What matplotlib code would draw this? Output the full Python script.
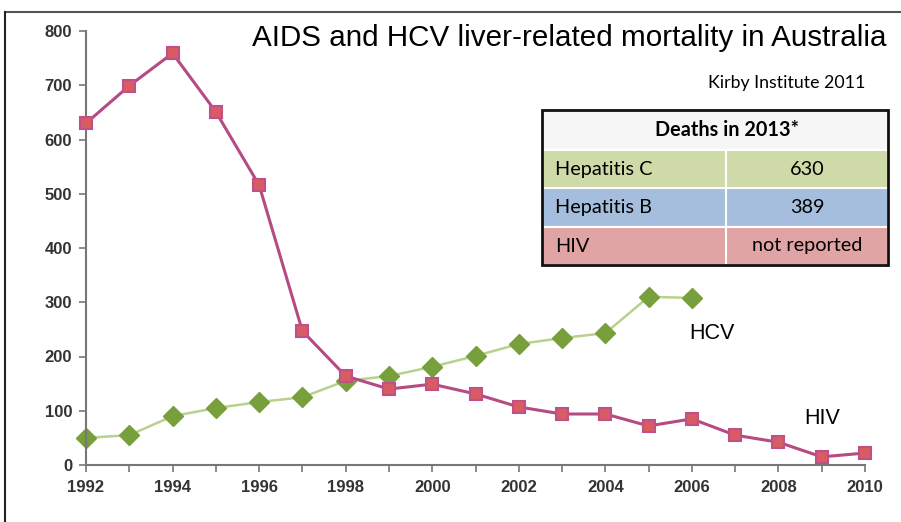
import matplotlib
matplotlib.use("Agg")
import matplotlib.pyplot as plt
from matplotlib.patches import Rectangle
from matplotlib.lines import Line2D

# -------------------------------
# DATA
# -------------------------------
hiv_years = list(range(1992, 2011))
hiv_deaths = [630, 699, 759, 651, 516, 247, 164, 140, 149, 131, 107, 94, 94, 72, 85, 55, 42, 15, 22]

hcv_years = list(range(1992, 2007))
hcv_deaths = [50, 55, 90, 105, 116, 125, 155, 164, 181, 201, 223, 234, 243, 310, 308]

table_header = "Deaths in 2013*"
table_rows = ["Hepatitis C", "Hepatitis B", "HIV"]
table_values = ["630", "389", "not reported"]
table_colors = ["#cfdaa9", "#a6bedd", "#dfa4a3"]

x_ticks = list(range(1992, 2011, 2))
y_ticks = list(range(0, 801, 100))

# -------------------------------
# FIGURE
# -------------------------------
W, H = 901, 522
fig = plt.figure(figsize=(W / 100, H / 100), dpi=100)

# outer frame lines (top and left)
fig.add_artist(Line2D([5 / W, 1], [1 - 12 / H, 1 - 12 / H], color="#555555", lw=1.5))
fig.add_artist(Line2D([5 / W, 5 / W], [0, 1 - 12 / H], color="#222222", lw=1.5))

ax = fig.add_axes([86 / W, 1 - 465 / H, (865 - 86) / W, (465 - 31) / H])

ax.plot(hiv_years, hiv_deaths, color="#b54b82", lw=2.2, marker="s", ms=9,
        markerfacecolor="#d95c63", markeredgecolor="#c0508a", markeredgewidth=1.5,
        clip_on=False, zorder=3)
ax.plot(hcv_years, hcv_deaths, color="#b8d28e", lw=1.8, marker="D", ms=10,
        markerfacecolor="#77a03c", markeredgecolor="#77a03c", clip_on=False, zorder=2)

ax.set_xlim(1992, 2010)
ax.set_ylim(0, 800)
ax.set_xticks(range(1992, 2011))
ax.set_xticklabels([str(y) if y in x_ticks else "" for y in range(1992, 2011)])
ax.set_yticks(y_ticks)

for s in ["top", "right"]:
    ax.spines[s].set_visible(False)
for s in ["left", "bottom"]:
    ax.spines[s].set_color("#777777")
    ax.spines[s].set_linewidth(1.5)
ax.tick_params(axis="both", colors="#777777", labelcolor="#333333", length=5, width=1.2,
               labelsize=12, direction="out")
ax.tick_params(axis="x", pad=6)
ax.tick_params(axis="y", pad=5)
for lab in ax.get_xticklabels() + ax.get_yticklabels():
    lab.set_fontweight("bold")
    lab.set_family("Liberation Sans")

# -------------------------------
# TEXT
# -------------------------------
fig.text(887 / W, 1 - 38 / H, "AIDS and HCV liver-related mortality in Australia",
         ha="right", va="center", fontsize=21.3, family="Liberation Sans")
fig.text(865 / W, 1 - 83 / H, "Kirby Institute 2011", ha="right", va="center",
         fontsize=12.8, family="Lato")
ax.text(2005.95, 243, "HCV", fontsize=15.5, family="Liberation Sans", ha="left", va="center")
ax.text(2008.6, 85, "HIV", fontsize=15.5, family="Liberation Sans", ha="left", va="center")

# -------------------------------
# TABLE
# -------------------------------
tx0, tx1, tmid = 542, 888, 726
row_edges = [110, 150, 188, 227, 265]

def fx(px):
    return px / W

def fy(py):
    return 1 - py / H

fig.add_artist(Rectangle((fx(tx0), fy(row_edges[1])), fx(tx1) - fx(tx0),
                         fy(row_edges[0]) - fy(row_edges[1]), facecolor="#f6f6f6",
                         edgecolor="none"))
fig.text(fx(727), fy((row_edges[0] + row_edges[1]) / 2), table_header,
         ha="center", va="center", fontsize=14.3, fontweight="bold", family="Lato")

for i, (name, val, col) in enumerate(zip(table_rows, table_values, table_colors)):
    top, bot = row_edges[i + 1], row_edges[i + 2]
    fig.add_artist(Rectangle((fx(tx0), fy(bot)), fx(tmid) - fx(tx0), fy(top) - fy(bot),
                             facecolor=col, edgecolor="white", lw=1.5))
    fig.add_artist(Rectangle((fx(tmid), fy(bot)), fx(tx1) - fx(tmid), fy(top) - fy(bot),
                             facecolor=col, edgecolor="white", lw=1.5))
    fig.text(fx(tx0 + 13), fy((top + bot) / 2), name, ha="left", va="center",
             fontsize=14.3, family="Lato")
    fig.text(fx((tmid + tx1) / 2), fy((top + bot) / 2), val, ha="center", va="center",
             fontsize=14.3, family="Lato")

fig.add_artist(Rectangle((fx(tx0), fy(row_edges[-1])), fx(tx1) - fx(tx0),
                         fy(row_edges[0]) - fy(row_edges[-1]), facecolor="none",
                         edgecolor="#111111", lw=2))

fig.savefig("out.png", dpi=100)
